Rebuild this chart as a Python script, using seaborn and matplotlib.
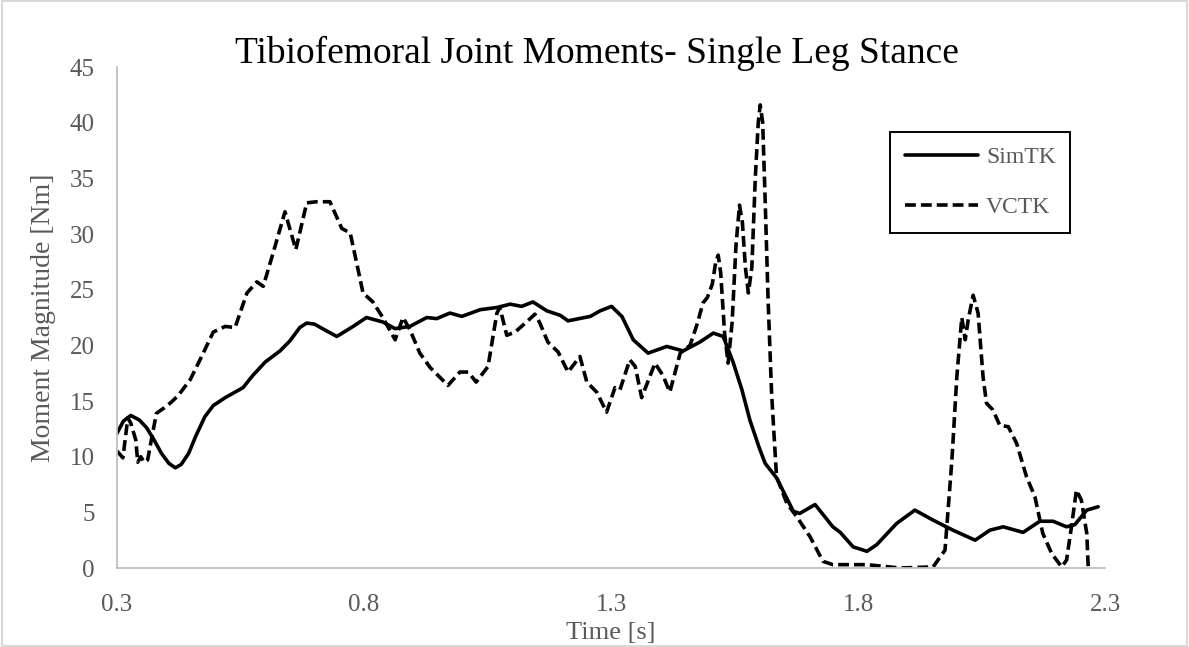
import numpy as np
import pandas as pd
import matplotlib
matplotlib.use("Agg")
import matplotlib.pyplot as plt
import seaborn as sns
from matplotlib.patches import Rectangle

# ---------------- data ----------------
simtk_time = [0.300, 0.313, 0.328, 0.345, 0.360, 0.375, 0.390, 0.405, 0.418, 0.430,
              0.445, 0.460, 0.478, 0.495, 0.519, 0.555, 0.575, 0.600, 0.630, 0.650,
              0.670, 0.684, 0.700, 0.720, 0.745, 0.778, 0.805, 0.838, 0.863, 0.893,
              0.927, 0.947, 0.974, 0.998, 1.035, 1.069, 1.096, 1.119, 1.142, 1.170,
              1.197, 1.213, 1.258, 1.278, 1.301, 1.322, 1.345, 1.375, 1.413, 1.446,
              1.480, 1.507, 1.527, 1.547, 1.565, 1.581, 1.600, 1.612, 1.635, 1.669,
              1.682, 1.713, 1.749, 1.764, 1.790, 1.818, 1.838, 1.878, 1.915, 1.952,
              1.992, 2.037, 2.067, 2.094, 2.134, 2.168, 2.195, 2.222, 2.239, 2.263,
              2.286]
simtk_moment = [12.1, 13.2, 13.7, 13.3, 12.6, 11.5, 10.3, 9.4, 9.0, 9.3,
                10.3, 11.9, 13.6, 14.6, 15.3, 16.2, 17.3, 18.5, 19.5, 20.4,
                21.6, 22.0, 21.9, 21.4, 20.8, 21.7, 22.5, 22.1, 21.5, 21.7,
                22.5, 22.4, 22.9, 22.6, 23.2, 23.4, 23.7, 23.5, 23.9, 23.1,
                22.7, 22.2, 22.6, 23.1, 23.5, 22.6, 20.5, 19.3, 19.9, 19.5,
                20.3, 21.1, 20.8, 18.5, 16.0, 13.3, 10.8, 9.4, 8.1, 5.1,
                4.9, 5.7, 3.7, 3.2, 1.9, 1.5, 2.1, 4.0, 5.2, 4.3,
                3.4, 2.5, 3.4, 3.7, 3.2, 4.2, 4.2, 3.7, 3.9, 5.2,
                5.5]

vctk_time = [0.300, 0.312, 0.322, 0.328, 0.338, 0.342, 0.348, 0.355, 0.362, 0.372,
             0.380, 0.396, 0.410, 0.424, 0.448, 0.468, 0.495, 0.519, 0.539, 0.563,
             0.583, 0.596, 0.616, 0.640, 0.662, 0.684, 0.704, 0.731, 0.755, 0.772,
             0.788, 0.798, 0.818, 0.838, 0.863, 0.879, 0.893, 0.913, 0.934, 0.970,
             0.994, 1.011, 1.027, 1.051, 1.069, 1.075, 1.089, 1.106, 1.129, 1.146,
             1.156, 1.172, 1.193, 1.213, 1.237, 1.251, 1.271, 1.291, 1.308, 1.318,
             1.338, 1.349, 1.362, 1.389, 1.405, 1.419, 1.440, 1.460, 1.475, 1.486,
             1.495, 1.505, 1.512, 1.517, 1.522, 1.530, 1.537, 1.545, 1.553, 1.560,
             1.566, 1.572, 1.578, 1.585, 1.592, 1.598, 1.602, 1.607, 1.612, 1.618,
             1.625, 1.635, 1.656, 1.676, 1.703, 1.729, 1.749, 1.818, 1.885, 1.952,
             1.976, 1.990, 2.000, 2.010, 2.017, 2.023, 2.033, 2.043, 2.053, 2.060,
             2.073, 2.087, 2.104, 2.121, 2.141, 2.158, 2.174, 2.192, 2.212, 2.222,
             2.232, 2.242, 2.252, 2.263, 2.266]
vctk_moment = [10.5, 9.9, 13.5, 13.0, 11.5, 9.5, 10.0, 9.5, 9.7, 12.1,
               13.9, 14.4, 14.9, 15.5, 16.9, 18.7, 21.2, 21.7, 21.6, 24.7,
               25.7, 25.3, 28.3, 32.0, 28.6, 32.8, 32.9, 32.9, 30.5, 30.1,
               26.8, 24.7, 23.9, 22.5, 20.5, 22.5, 21.4, 19.3, 18.0, 16.4,
               17.6, 17.6, 16.7, 18.1, 22.9, 23.4, 20.9, 21.2, 22.1, 22.8,
               22.0, 20.3, 19.4, 17.6, 19.0, 16.7, 15.8, 14.0, 16.2, 16.0,
               18.7, 18.1, 15.3, 18.4, 17.3, 15.8, 19.3, 20.0, 22.0, 23.8,
               24.3, 25.5, 27.5, 28.1, 26.5, 21.0, 18.4, 22.0, 29.0, 32.6,
               31.0, 27.0, 24.7, 27.0, 35.0, 40.0, 41.6, 40.0, 33.0, 24.0,
               15.7, 8.2, 5.8, 4.6, 2.8, 0.6, 0.3, 0.3, 0.0, 0.1,
               1.6, 9.7, 17.2, 22.5, 20.5, 22.3, 24.5, 22.9, 17.2, 14.8,
               14.2, 12.8, 12.7, 11.2, 8.2, 6.4, 3.1, 1.3, 0.1, 0.7,
               3.7, 7.0, 6.1, 3.1, 0.0]

series_names = ["SimTK", "VCTK"]
x_ticks = [0.3, 0.8, 1.3, 1.8, 2.3]
y_ticks = [0, 5, 10, 15, 20, 25, 30, 35, 40, 45]

title_text = "Tibiofemoral Joint Moments- Single Leg Stance"
x_label = "Time [s]"
y_label = "Moment Magnitude [Nm]"

df = pd.concat([
    pd.DataFrame({"Time": simtk_time, "Moment": simtk_moment, "Model": series_names[0]}),
    pd.DataFrame({"Time": vctk_time, "Moment": vctk_moment, "Model": series_names[1]}),
], ignore_index=True)

# ---------------- style ----------------
sns.set_theme(style="white")
plt.rcParams["font.family"] = ["Liberation Serif", "DejaVu Serif"]
GRAY_TXT = "#595959"
GRAY_AX = "#bfbfbf"

fig = plt.figure(figsize=(11.89, 6.47), dpi=100)
ax = fig.add_axes([0.0984, 0.1221, 0.8310, 0.7743])

sns.lineplot(data=df, x="Time", y="Moment", style="Model",
             dashes={"SimTK": "", "VCTK": (3.0, 1.4)},
             color="black", linewidth=2.6, estimator=None, sort=False,
             legend=False, ax=ax)

ax.set_xlim(0.3, 2.3)
ax.set_ylim(0, 45)
ax.set_xticks(x_ticks)
ax.set_xticklabels([f"{v:g}" for v in x_ticks])
ax.set_yticks(y_ticks)
ax.set_yticklabels([f"{v:g}" for v in y_ticks])

for side in ["top", "right"]:
    ax.spines[side].set_visible(False)
for side in ["left", "bottom"]:
    ax.spines[side].set_color(GRAY_AX)
    ax.spines[side].set_linewidth(1.3)

ax.tick_params(axis="both", direction="in", length=6, width=1.0, color=GRAY_AX,
               labelcolor=GRAY_TXT, labelsize=18)
ax.tick_params(axis="x", pad=19)
ax.tick_params(axis="y", pad=16)
ax.grid(False)

ax.set_xlabel(x_label, fontsize=19, color=GRAY_TXT, va="center")
ax.xaxis.set_label_coords(0.5, -0.129)
ax.set_ylabel(y_label, fontsize=20, color=GRAY_TXT, va="center")
ax.yaxis.set_label_coords(-0.074, 0.5)

fig.suptitle(title_text, x=0.502, y=0.918, va="center", fontsize=27, color="black")

lines = ax.get_lines()
leg = fig.legend(lines[:2], series_names, loc="upper left",
                 bbox_to_anchor=(890 / 1189, 1 - 132 / 647), bbox_transform=fig.transFigure,
                 borderaxespad=0, fontsize=17, frameon=True, fancybox=False, framealpha=1,
                 edgecolor="black", handlelength=3.1, handletextpad=0.35,
                 labelspacing=1.2, borderpad=0.62)
leg.get_frame().set_linewidth(1.4)
for t in leg.get_texts():
    t.set_color(GRAY_TXT)

# outer chart border
fig.patches.append(Rectangle((0.002, 0.002), 0.996, 0.996, transform=fig.transFigure,
                             fill=False, edgecolor="#d9d9d9", linewidth=1.5))

fig.savefig("out.png", dpi=100)
